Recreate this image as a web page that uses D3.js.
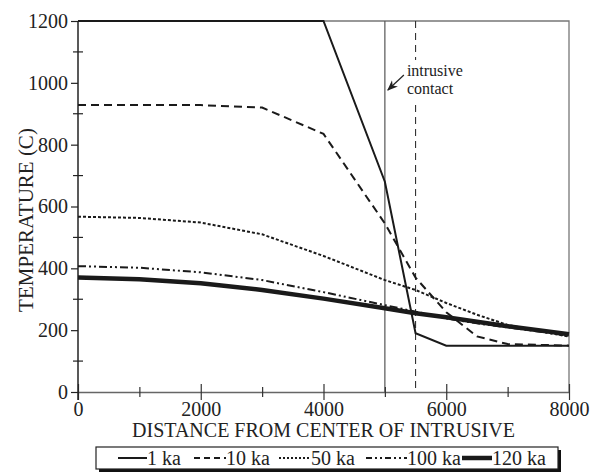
<!DOCTYPE html>
<html>
<head>
<meta charset="utf-8">
<script src="https://cdn.jsdelivr.net/npm/d3@7"></script>
<style>
  body { margin: 0; background: #fff; }
  svg text { font-family: "Liberation Serif", "Times New Roman", serif; fill: #222; }
</style>
</head>
<body>
<div id="chart"></div>
<script>
// distances (m) from the centre of the intrusive
const distance = [0, 1000, 2000, 3000, 4000, 5000, 5500, 6000, 6500, 7000, 8000];
// temperatures (C) for each time after intrusion
const temp1ka   = [1200, 1200, 1200, 1200, 1200, 680, 190, 150, 150, 150, 150];
const temp10ka  = [928, 928, 928, 920, 835, 545, 370, 258, 180, 155, 150];
const temp50ka  = [567, 563, 548, 510, 440, 362, 330, 288, 250, 217, 179];
const temp100ka = [407, 402, 387, 362, 323, 281, 260, 238, 222, 209, 182];
const temp120ka = [370, 365, 352, 330, 302, 271, 255, 242, 227, 213, 187];
const seriesNames = ["1 ka", "10 ka", "50 ka", "100 ka", "120 ka"];
const xTickLabels = [0, 2000, 4000, 6000, 8000];
const yTickLabels = [0, 200, 400, 600, 800, 1000, 1200];
const contactX = 5000, contactX2 = 5500;

const W = 595, H = 472;
const margin = { top: 21, right: 26, bottom: 80, left: 78 };

const x = d3.scaleLinear().domain([0, 8000]).range([margin.left, W - margin.right]);
const y = d3.scaleLinear().domain([0, 1200]).range([H - margin.bottom, margin.top]);

const svg = d3.select("#chart").append("svg")
  .attr("width", W).attr("height", H);

// styles per series
const styles = [
  { w: 2,   dash: null },
  { w: 2,   dash: "8,5" },
  { w: 2,   dash: "3,2" },
  { w: 2,   dash: "8,3,2,3,2,3" },
  { w: 4.5, dash: null }
];
const allTemps = [temp1ka, temp10ka, temp50ka, temp100ka, temp120ka];

// frame (top + right), grey
svg.append("path")
  .attr("d", `M${x(0)},${y(1200)}H${x(8000)}V${y(0)}`)
  .attr("fill", "none").attr("stroke", "#777").attr("stroke-width", 1.3);

// contact lines
svg.append("line")
  .attr("x1", x(contactX)).attr("x2", x(contactX))
  .attr("y1", y(1200)).attr("y2", y(0))
  .attr("stroke", "#555").attr("stroke-width", 1.2);
svg.append("line")
  .attr("x1", x(contactX2)).attr("x2", x(contactX2))
  .attr("y1", y(1200)).attr("y2", y(0))
  .attr("stroke", "#333").attr("stroke-width", 1.1)
  .attr("stroke-dasharray", "7,5");

// x axis
const xAxis = svg.append("g")
  .attr("transform", `translate(0,${y(0)})`)
  .call(d3.axisBottom(x)
    .tickValues(d3.range(0, 8001, 1000))
    .tickFormat(d => xTickLabels.includes(d) ? d3.format("d")(d) : "")
    .tickSize(0).tickPadding(10));
xAxis.select(".domain").attr("stroke", "#666").attr("stroke-width", 1.3);
xAxis.selectAll(".tick line")
  .attr("y1", d => d % 2000 === 0 ? -8 : -5)
  .attr("y2", d => d % 2000 === 0 ? 8 : 5)
  .attr("stroke", "#333").attr("stroke-width", 1.2);
xAxis.selectAll(".tick text").style("font-size", "20px").attr("fill", "#222");

// y axis
const yAxis = svg.append("g")
  .attr("transform", `translate(${x(0)},0)`)
  .call(d3.axisLeft(y).tickValues(yTickLabels).tickFormat(d3.format("d"))
    .tickSize(7).tickPadding(3));
yAxis.select(".domain").remove();
yAxis.selectAll(".tick line").attr("stroke", "#222").attr("stroke-width", 1.2);
yAxis.selectAll(".tick text").style("font-size", "20px").attr("fill", "#222");
// minor ticks straddling the axis
svg.append("g").selectAll("line")
  .data(d3.range(100, 1200, 200))
  .join("line")
  .attr("x1", x(0) - 5).attr("x2", x(0) + 5)
  .attr("y1", d => y(d)).attr("y2", d => y(d))
  .attr("stroke", "#222").attr("stroke-width", 1.2);
svg.append("line")
  .attr("x1", x(0)).attr("x2", x(0))
  .attr("y1", y(1200)).attr("y2", y(0) + 8)
  .attr("stroke", "#222").attr("stroke-width", 1.5);

// series
const line = d3.line().x(d => x(d[0])).y(d => y(d[1]));
allTemps.forEach((t, i) => {
  svg.append("path")
    .datum(distance.map((d, j) => [d, t[j]]))
    .attr("fill", "none")
    .attr("stroke", "#1a1a1a")
    .attr("stroke-width", styles[i].w)
    .attr("stroke-dasharray", styles[i].dash)
    .attr("d", line);
});

// annotation
svg.append("rect")
  .attr("x", x(contactX) + 18).attr("y", 60).attr("width", 76).attr("height", 42)
  .attr("fill", "#fff");
svg.append("text").attr("x", x(contactX) + 22).attr("y", 76)
  .style("font-size", "16px").text("intrusive");
svg.append("text").attr("x", x(contactX) + 22).attr("y", 94)
  .style("font-size", "16px").text("contact");
svg.append("defs").append("marker")
  .attr("id", "arrow").attr("viewBox", "0 0 10 10")
  .attr("refX", 9).attr("refY", 5)
  .attr("markerWidth", 9).attr("markerHeight", 9)
  .attr("orient", "auto")
  .append("path").attr("d", "M0,1L10,5L0,9L3,5Z").attr("fill", "#222");
svg.append("line")
  .attr("x1", x(contactX) + 19).attr("y1", 75)
  .attr("x2", x(contactX) + 3).attr("y2", 90)
  .attr("stroke", "#222").attr("stroke-width", 1.2)
  .attr("marker-end", "url(#arrow)");

// axis titles
svg.append("text")
  .attr("x", (x(0) + x(8000)) / 2).attr("y", 437)
  .attr("text-anchor", "middle")
  .style("font-size", "20px")
  .text("DISTANCE FROM CENTER OF INTRUSIVE");
svg.append("text")
  .attr("transform", `translate(33,220) rotate(-90)`)
  .attr("text-anchor", "middle")
  .style("font-size", "21px")
  .text("TEMPERATURE (C)");

// legend
const lg = svg.append("g");
lg.append("rect").attr("x", 99).attr("y", 450).attr("width", 462).attr("height", 22).attr("fill", "#111");
lg.append("rect").attr("x", 96).attr("y", 447).attr("width", 462).attr("height", 22)
  .attr("fill", "#fff").attr("stroke", "#222").attr("stroke-width", 1.2);
const legendPos = [[118, 147], [194, 226], [279, 311], [366, 407], [462, 492]];
seriesNames.forEach((n, i) => {
  const [x1, x2] = legendPos[i];
  lg.append("line")
    .attr("x1", x1).attr("x2", x2).attr("y1", 458).attr("y2", 458)
    .attr("stroke", "#1a1a1a")
    .attr("stroke-width", styles[i].w)
    .attr("stroke-dasharray", i === 0 || i === 4 ? null : (i === 1 ? "6,4" : i === 2 ? "2,2" : "6,3,2,3,2,3"));
  lg.append("text").attr("x", x2).attr("y", 465)
    .style("font-size", "20px").text(n);
});
</script>
</body>
</html>
